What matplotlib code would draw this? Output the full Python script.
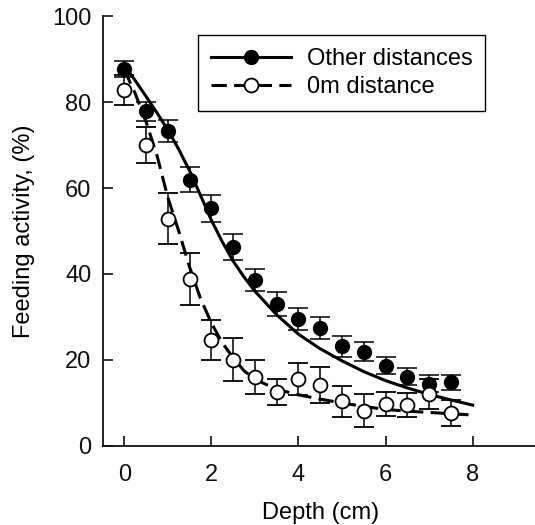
import numpy as np
import matplotlib
matplotlib.use('Agg')
import matplotlib.pyplot as plt
from matplotlib.lines import Line2D

plt.rcParams['font.family'] = ['Liberation Sans', 'DejaVu Sans']

depth = [0, 0.5, 1, 1.5, 2, 2.5, 3, 3.5, 4, 4.5, 5, 5.5, 6, 6.5, 7, 7.5]
other_mean = [87.7, 77.8, 73.3, 61.9, 55.3, 46.3, 38.6, 33.0, 29.5, 27.4, 23.2, 21.9, 18.7, 16.1, 14.5, 14.8]
other_err = [1.8, 2.2, 2.6, 2.9, 3.1, 3.0, 2.6, 2.7, 2.6, 2.5, 2.4, 2.2, 2.0, 2.0, 1.9, 1.8]
zero_mean = [82.7, 69.9, 52.9, 38.9, 24.7, 20.1, 16.0, 12.5, 15.6, 14.1, 10.4, 8.2, 9.8, 9.6, 12.1, 7.7]
zero_err = [3.5, 4.2, 6.0, 6.0, 4.6, 5.0, 4.0, 3.0, 3.8, 4.2, 3.6, 3.8, 2.8, 2.8, 3.5, 3.1]

# fitted curves
fit_depth = [0, 0.25, 0.5, 0.75, 1, 1.25, 1.5, 1.75, 2, 2.25, 2.5, 2.75, 3,
             3.5, 4, 4.5, 5, 5.5, 6, 6.5, 7, 7.5, 8]
other_fit = [88.5, 85.0, 81.3, 77.5, 73.5, 69.0, 64.0, 58.3, 52.5, 47.5, 43.0, 39.3, 36.0,
             30.5, 26.0, 22.6, 19.8, 17.3, 15.2, 13.5, 12.0, 10.7, 9.5]
zero_fit = [87.5, 82.0, 75.4, 67.6, 57.8, 50.0, 41.6, 34.3, 28.6, 24.0, 20.5, 17.5, 15.5,
            13.2, 11.9, 10.9, 10.0, 9.2, 8.5, 8.1, 7.8, 7.5, 7.2]

DASH = (0, (5, 2.4))
FS = 17

fig = plt.figure(figsize=(5.35, 5.25), dpi=100)
ax = fig.add_axes([0.1916, 0.1505, 0.814, 0.819])

# fitted lines
ax.plot(fit_depth, other_fit, color='black', lw=2.2, zorder=2)
ax.plot(fit_depth, zero_fit, color='black', lw=2.2, linestyle=DASH, zorder=2)

# points with error bars
ax.errorbar(depth, other_mean, yerr=other_err, fmt='o', color='black',
            mfc='black', mec='black', ms=10, elinewidth=1.1, capsize=7,
            capthick=1.1, zorder=3)
ax.errorbar(depth, zero_mean, yerr=zero_err, fmt='o', color='black',
            mfc='white', mec='black', ms=10, mew=1.3, elinewidth=1.1, capsize=7,
            capthick=1.1, zorder=4)

ax.set_xlim(-0.5, 9.5)
ax.set_ylim(0, 100)
ax.set_xticks([0, 2, 4, 6, 8])
ax.set_yticks([0, 20, 40, 60, 80, 100])

for s in ['top', 'right']:
    ax.spines[s].set_visible(False)
for s in ['left', 'bottom']:
    ax.spines[s].set_linewidth(1.3)
    ax.spines[s].set_color('#111111')

ax.tick_params(axis='both', direction='in', length=7, width=1.2,
               labelsize=FS, colors='#111111')
ax.tick_params(axis='x', pad=13)
ax.tick_params(axis='y', pad=8)

ax.set_xlabel('Depth (cm)', fontsize=FS)
ax.set_ylabel('Feeding activity, (%)', fontsize=FS)
ax.xaxis.set_label_coords(0.5, -0.13)
ax.yaxis.set_label_coords(-0.155, 0.5)

handles = [
    Line2D([], [], color='black', lw=2.2, marker='o', ms=10, mfc='black', mec='black'),
    Line2D([], [], color='black', lw=2.2, linestyle=DASH, marker='o', ms=10,
           mfc='white', mec='black', mew=1.3),
]
leg = fig.legend(handles, ['Other distances', '0m distance'], loc='upper left',
                 bbox_to_anchor=(198 / 535, 1 - 35 / 525), borderaxespad=0,
                 fontsize=FS, handlelength=3.4, handletextpad=0.65,
                 labelspacing=0.25, borderpad=0.55, numpoints=1,
                 fancybox=False, framealpha=1, edgecolor='black')
leg.get_frame().set_linewidth(1.0)

fig.savefig('out.png', dpi=100)
